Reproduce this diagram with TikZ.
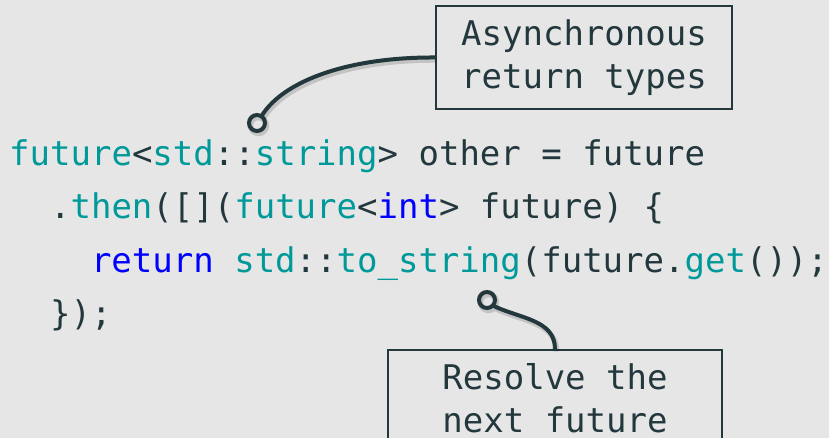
\documentclass[tikz,border=0pt]{standalone}
\usepackage{fontspec}
\newfontfamily\codefont{DejaVu Sans Mono}
\definecolor{ink}{RGB}{35,56,61}
\definecolor{tealc}{RGB}{0,153,153}
\definecolor{kwblue}{RGB}{0,0,255}
\definecolor{bg}{RGB}{230,230,230}
\newcommand\tyc[1]{\textcolor{tealc}{#1}}
\newcommand\kwc[1]{\textcolor{kwblue}{#1}}
\begin{document}
\begin{tikzpicture}[x=1pt,y=-1pt,
  codeline/.style={anchor=base west, inner sep=0, text=ink, font=\codefont\fontsize{34}{43}\selectfont},
  callout/.style={draw=ink, line width=2, fill=bg, text=ink, font=\codefont\fontsize{34}{43}\selectfont, align=center, minimum height=103, inner sep=0},
  shadowed/.style={preaction={draw=black, opacity=0.15, line width=5.5, transform canvas={shift={(1.5,2.5)}}}},
  conn/.style={draw=ink, line width=4, line cap=round, shadowed},
  ring/.style={circle, draw=ink, line width=4, minimum size=16, inner sep=0, shadowed}]
\useasboundingbox (0,0) rectangle (829,438);
\clip (0,0) rectangle (829,438);
\fill[bg] (0,0) rectangle (829,438);
% code
\node[codeline] (l1) at (9,166) {\tyc{future}<\tyc{std}::\tyc{string}> other = future};
\node[codeline] (l2) at (49.9,219) {.\tyc{then}([](\tyc{future}<\kwc{int}> future) \{};
\node[codeline] (l3) at (90.8,272) {\kwc{return} \tyc{std}::\tyc{to\_string}(future.\tyc{get}());};
\node[codeline] (l4) at (49.9,325) {\});};
% callouts
\node[callout, minimum width=296] (b1) at (584,57.5) {Asynchronous\\return types};
\node[callout, minimum width=334, anchor=north] (b2) at (555,349) {Resolve the\\next future\vphantom{y}};
% rings
\node[ring] (r1) at (257,123) {};
\node[ring] (r2) at (487,300) {};
% connectors
\path[conn] (b1.west) .. controls (350,57) and (285,80) .. (r1);
\path[conn] (r2.-40) to[out=-25,in=90] (b2.north);
\end{tikzpicture}
\end{document}
